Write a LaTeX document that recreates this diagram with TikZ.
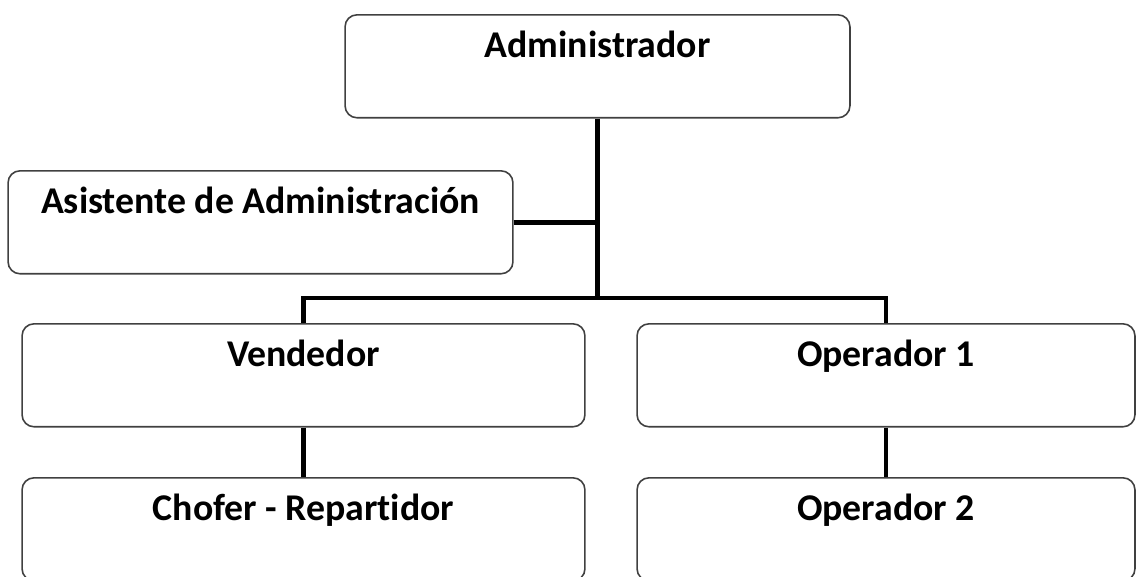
\documentclass[tikz,border=0pt]{standalone}
\usepackage{fontspec}
\setmainfont{Carlito}[Ligatures=CommonOff]
\usepackage{tikz}

\newcommand{\postfont}{\bfseries\fontsize{21.5}{25}\selectfont}
\tikzset{
	post/.style={draw=black!75, line width=0.9pt, rounded corners=0.24cm, inner sep=0pt,
		anchor=north, text height=0.86cm, text depth=1.2cm, font=\postfont},
	conn/.style={draw=black, line width=2.8pt},
}

\begin{document}
\begin{tikzpicture}[x=0.02cm, y=-0.02cm]
	\useasboundingbox (0,0) rectangle (1136,576);
	\node[post, minimum width=10.1cm] (admin) at (597.5,14) {Administrador};
	\node[post, minimum width=10.1cm] (asist) at (260.5,170) {Asistente de Administración};
	\node[post, minimum width=11.26cm] (vend) at (303.5,323) {Vendedor};
	\node[post, minimum width=9.96cm] (oper1) at (886,323) {Operador 1};
	\node[post, minimum width=11.26cm] (chofer) at (303.5,477) {Chofer - Repartidor};
	\node[post, minimum width=9.96cm] (oper2) at (886,477) {Operador 2};
	\coordinate (bus) at (597.5,298);
	\draw[conn] (admin.south) -- (bus);
	\draw[conn] (asist.east) -- (asist.east -| bus);
	\draw[conn] (vend.north) |- (bus) -| (oper1.north);
	\draw[conn] (vend.south) -- (chofer.north);
	\draw[conn] (oper1.south) -- (oper2.north);
\end{tikzpicture}
\end{document}
